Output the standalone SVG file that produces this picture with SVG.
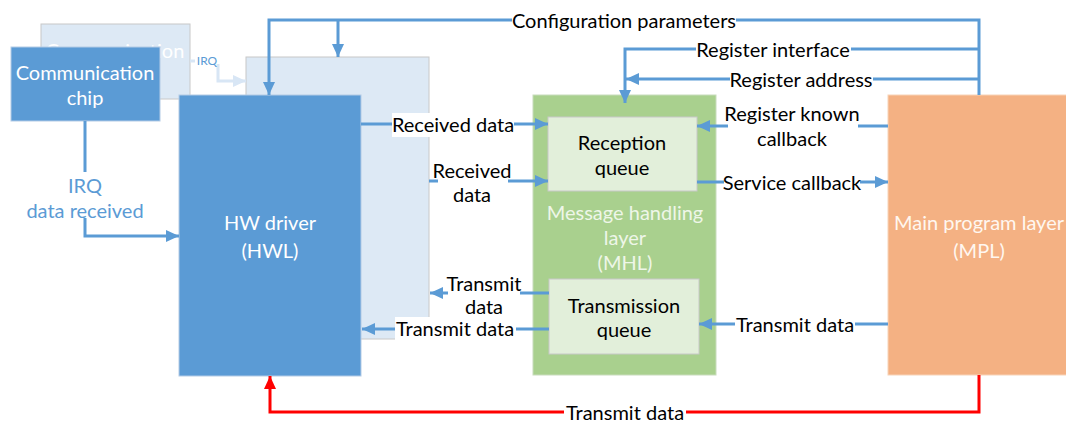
<svg xmlns="http://www.w3.org/2000/svg" width="1066" height="423" viewBox="0 0 1066 423">
<style>
text{font-family:Lato,"Liberation Sans",sans-serif;font-size:20px;text-anchor:middle;dominant-baseline:central}
.lbl{fill:#000}
.wt{fill:#fff}
.sm{font-size:12px;fill:#5b9bd5}
.bl{stroke:#5b9bd5;stroke-width:3;fill:none}
.rd{stroke:#ff0000;stroke-width:3;fill:none}
.gh{stroke:#d8e6f5;stroke-width:3;fill:none}
.bg{fill:#fff}
</style>
<defs>
<marker id="ab" markerUnits="userSpaceOnUse" markerWidth="13" markerHeight="12" refX="13" refY="6" orient="auto"><path d="M0,0 L13,6 L0,12 z" fill="#5b9bd5"/></marker>
<marker id="ar" markerUnits="userSpaceOnUse" markerWidth="13" markerHeight="12" refX="13" refY="6" orient="auto"><path d="M0,0 L13,6 L0,12 z" fill="#ff0000"/></marker>
<marker id="ag" markerUnits="userSpaceOnUse" markerWidth="13" markerHeight="12" refX="13" refY="6" orient="auto"><path d="M0,0 L13,6 L0,12 z" fill="#d8e6f5"/></marker>
</defs>
<g id="ghost-chip"><rect x="41" y="24" width="149" height="75" fill="#dde9f5" stroke="#c8c8c8"/><text x="115" y="50" class="wt">Communication</text></g>
<g id="ghost-hw"><rect x="246" y="57" width="183" height="282" fill="#dde9f5" stroke="#c8c8c8"/></g>
<g id="chip"><rect x="11" y="47" width="149" height="74" fill="#5b9bd5" stroke="#b4cbe6"/><text x="85" y="72" class="wt">Communication</text><text x="85" y="97" class="wt">chip</text></g>
<g id="hwl"><rect x="179" y="95" width="182" height="281" fill="#5b9bd5" stroke="#b4cbe6"/><text x="270" y="222" class="wt">HW driver</text><text x="270" y="250" class="wt">(HWL)</text></g>
<g id="mhl"><rect x="533" y="95" width="183" height="280" fill="#a9d08e" stroke="#c8dcbc"/><text x="625" y="212" fill="#eef6e8">Message handling</text><text x="625" y="237" fill="#eef6e8">layer</text><text x="625" y="262" fill="#eef6e8">(MHL)</text></g>
<g id="rxq"><rect x="548" y="117" width="149" height="74" fill="#e2efda" stroke="#c8c8c8"/><text x="622" y="142" class="lbl">Reception</text><text x="622" y="167" class="lbl">queue</text></g>
<g id="txq"><rect x="549" y="279" width="150" height="75" fill="#e2efda" stroke="#c8c8c8"/><text x="624" y="305" class="lbl">Transmission</text><text x="624" y="329" class="lbl">queue</text></g>
<g id="mpl"><rect x="888" y="95" width="180" height="280" fill="#f4b183" stroke="#f8d3b8"/><text x="979" y="222" fill="#fff7f0">Main program layer</text><text x="979" y="250" fill="#fff7f0">(MPL)</text></g>
<g id="connectors">
<path class="gh" d="M190,61 H195"/>
<path class="gh" d="M218,64 V81 H246" marker-end="url(#ag)"/>
<path class="bl" d="M85,121 V236 H179" marker-end="url(#ab)"/>
<path class="bl" d="M979,95 V20 H269 V95" marker-end="url(#ab)"/>
<path class="bl" d="M338,20 V57" marker-end="url(#ab)"/>
<path class="bl" d="M979,49 H625 V103" marker-end="url(#ab)"/>
<path class="bl" d="M979,79 H626" marker-end="url(#ab)"/>
<path class="bl" d="M361,124 H548" marker-end="url(#ab)"/>
<path class="bl" d="M429,181 H548" marker-end="url(#ab)"/>
<path class="bl" d="M888,126 H697" marker-end="url(#ab)"/>
<path class="bl" d="M697,182 H888" marker-end="url(#ab)"/>
<path class="bl" d="M549,293 H430" marker-end="url(#ab)"/>
<path class="bl" d="M549,329 H362" marker-end="url(#ab)"/>
<path class="bl" d="M888,324 H699" marker-end="url(#ab)"/>
<path class="rd" d="M979,375 V412 H270 V376" marker-end="url(#ar)"/>
</g>
<g id="labels">
<text x="207" y="60" class="sm">IRQ</text>
<rect class="bg" x="60" y="172" width="52" height="46"/>
<text x="85" y="185" fill="#5b9bd5">IRQ</text>
<text x="85" y="210" fill="#5b9bd5">data received</text>
<rect class="bg" x="512" y="9" width="224" height="24"/>
<text x="624" y="20" class="lbl">Configuration parameters</text>
<rect class="bg" x="696" y="38" width="155" height="24"/>
<text x="773" y="49" class="lbl">Register interface</text>
<rect class="bg" x="730" y="67" width="143" height="24"/>
<text x="801" y="79" class="lbl">Register address</text>
<rect class="bg" x="392" y="113" width="122" height="24"/>
<text x="453" y="124" class="lbl">Received data</text>
<rect class="bg" x="438" y="158" width="70" height="48"/>
<text x="472" y="170" class="lbl">Received</text>
<text x="472" y="194" class="lbl">data</text>
<rect class="bg" x="728" y="101" width="130" height="48"/>
<text x="792" y="113" class="lbl">Register known</text>
<text x="792" y="138" class="lbl">callback</text>
<rect class="bg" x="724" y="171" width="136" height="24"/>
<text x="792" y="182" class="lbl">Service callback</text>
<rect class="bg" x="448" y="271" width="72" height="48"/>
<text x="484" y="283" class="lbl">Transmit</text>
<text x="484" y="306" class="lbl">data</text>
<rect class="bg" x="395" y="317" width="121" height="24"/>
<text x="455" y="328" class="lbl">Transmit data</text>
<rect class="bg" x="735" y="312" width="120" height="24"/>
<text x="795" y="324" class="lbl">Transmit data</text>
<rect class="bg" x="564" y="400" width="122" height="23"/>
<text x="625" y="412" class="lbl">Transmit data</text>
</g>
</svg>
